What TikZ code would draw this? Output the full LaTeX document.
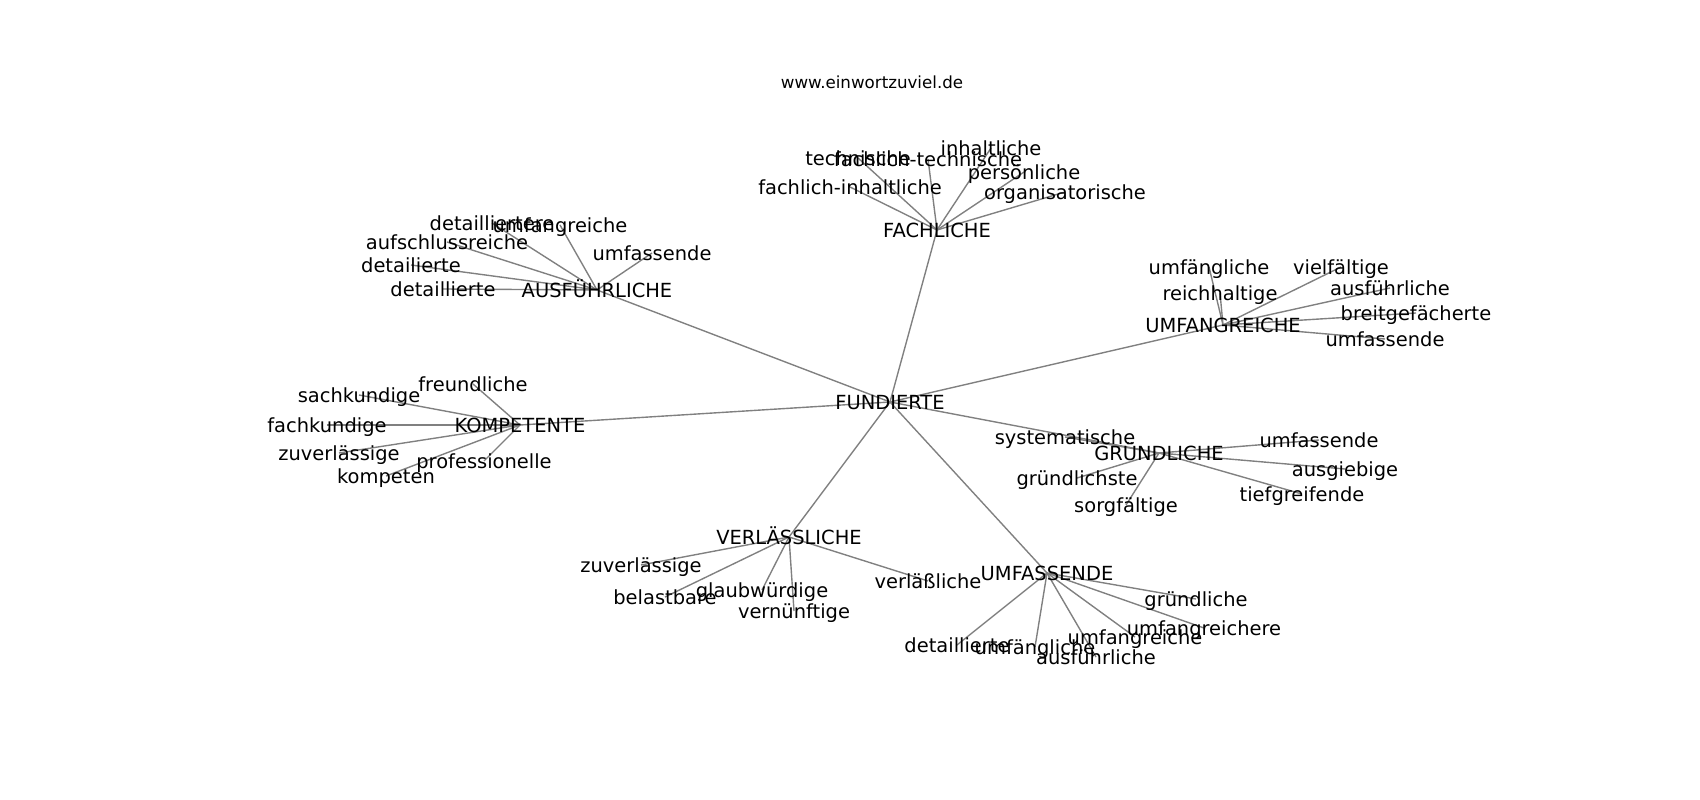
\documentclass[tikz,border=0pt]{standalone}
\usepackage{fontspec}
\setmainfont{DejaVu Sans}
\usetikzlibrary{backgrounds}

\begin{document}
\begin{tikzpicture}
		[x=0.01in, y=-0.01in,
		n/.style={font=\fontsize{14bp}{16bp}\selectfont,inner sep=0pt,text height=1.06em,text depth=0em},
		ttl/.style={font=\fontsize{12bp}{14bp}\selectfont,inner sep=0pt},
		ln/.style={draw=black!50,line width=1bp}]

		\useasboundingbox (0,0) rectangle (1700,800);

		\node[ttl] (ti) at (872,82) {www.einwortzuviel.de};

		\node[n] (n0) at (890,402) {FUNDIERTE};

		% FACHLICHE
		\node[n] (n1) at (937,230) {FACHLICHE};
		\node[n] (n1a) at (858,158) {technische};
		\node[n] (n1b) at (928,159) {fachlich-technische};
		\node[n] (n1c) at (991,148) {inhaltliche};
		\node[n] (n1d) at (1024,172) {persönliche};
		\node[n] (n1e) at (850,187) {fachlich-inhaltliche};
		\node[n] (n1f) at (1065,192) {organisatorische};

		% AUSFÜHRLICHE
		\node[n] (n2) at (597,290) {AUSFÜHRLICHE};
		\node[n] (n2a) at (443,289) {detaillierte};
		\node[n] (n2b) at (411,265) {detailierte};
		\node[n] (n2c) at (447,242) {aufschlussreiche};
		\node[n] (n2d) at (492,223) {detailliertere};
		\node[n] (n2e) at (560,225) {umfangreiche};
		\node[n] (n2f) at (652,253) {umfassende};

		% UMFANGREICHE
		\node[n] (n3) at (1223,325) {UMFANGREICHE};
		\node[n] (n3a) at (1209,267) {umfängliche};
		\node[n] (n3b) at (1341,267) {vielfältige};
		\node[n] (n3c) at (1220,293) {reichhaltige};
		\node[n] (n3d) at (1390,288) {ausführliche};
		\node[n] (n3e) at (1416,313) {breitgefächerte};
		\node[n] (n3f) at (1385,339) {umfassende};

		% KOMPETENTE
		\node[n] (n4) at (520,425) {KOMPETENTE};
		\node[n] (n4a) at (473,384) {freundliche};
		\node[n] (n4b) at (359,395) {sachkundige};
		\node[n] (n4c) at (327,425) {fachkundige};
		\node[n] (n4d) at (339,453) {zuverlässige};
		\node[n] (n4e) at (484,461) {professionelle};
		\node[n] (n4f) at (386,476) {kompeten};

		% GRÜNDLICHE
		\node[n] (n5) at (1159,453) {GRÜNDLICHE};
		\node[n] (n5a) at (1065,437) {systematische};
		\node[n] (n5b) at (1319,440) {umfassende};
		\node[n] (n5c) at (1077,478) {gründlichste};
		\node[n] (n5d) at (1345,469) {ausgiebige};
		\node[n] (n5e) at (1126,505) {sorgfältige};
		\node[n] (n5f) at (1302,494) {tiefgreifende};

		% VERLÄSSLICHE
		\node[n] (n6) at (789,537) {VERLÄSSLICHE};
		\node[n] (n6a) at (641,565) {zuverlässige};
		\node[n] (n6b) at (665,597) {belastbare};
		\node[n] (n6c) at (762,590) {glaubwürdige};
		\node[n] (n6d) at (794,611) {vernünftige};
		\node[n] (n6e) at (928,581) {verläßliche};

		% UMFASSENDE
		\node[n] (n7) at (1047,573) {UMFASSENDE};
		\node[n] (n7a) at (957,645) {detaillierte};
		\node[n] (n7b) at (1035,647) {umfängliche};
		\node[n] (n7c) at (1096,657) {ausführliche};
		\node[n] (n7d) at (1135,637) {umfangreiche};
		\node[n] (n7e) at (1204,628) {umfangreichere};
		\node[n] (n7f) at (1196,599) {gründliche};

		\begin{scope}[on background layer]
			\path (n0.center)
				edge [ln] (n1.center) edge [ln] (n2.center) edge [ln] (n3.center)
				edge [ln] (n4.center) edge [ln] (n5.center) edge [ln] (n6.center)
				edge [ln] (n7.center);
			\foreach \h/\k in {1/f,2/f,3/f,4/f,5/f,6/e,7/f}
				\foreach \c in {a,...,\k}
					\path (n\h.center) edge [ln] (n\h\c.center);
		\end{scope}
\end{tikzpicture}
\end{document}
